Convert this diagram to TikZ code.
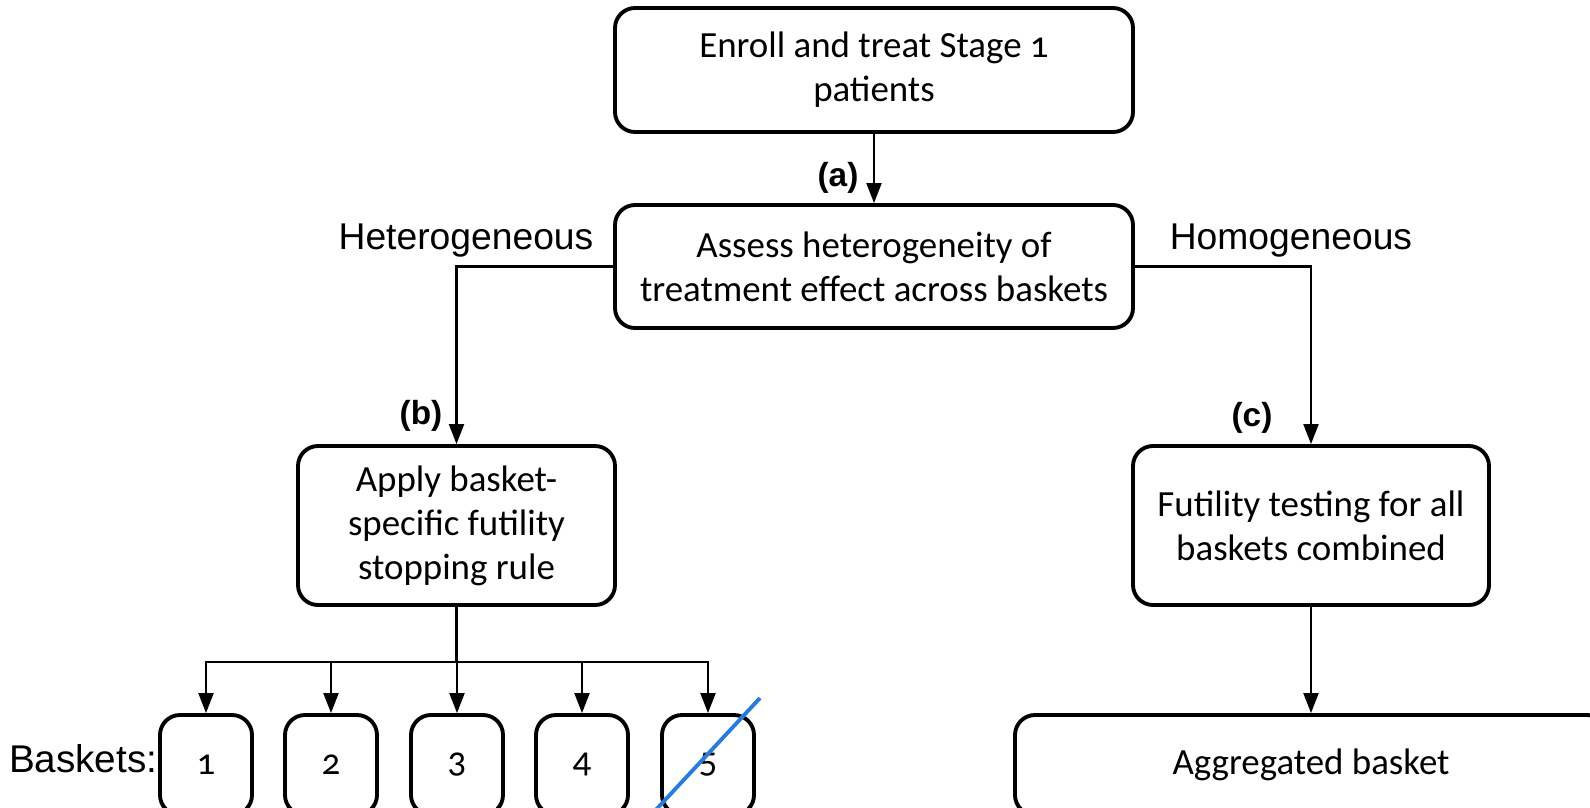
\documentclass[tikz,border=0pt]{standalone}
\usepackage{fontspec}
\setmainfont{Carlito}[Numbers=OldStyle]
\newfontfamily\labelfont{Liberation Sans}
\usetikzlibrary{arrows.meta}
\definecolor{slashblue}{RGB}{40,125,220}
\tikzstyle{process} = [rectangle, rounded corners=0.2cm, draw=black, line width=1.1pt, align=center, inner sep=0pt, font=\fontsize{10.5}{12.5}\selectfont]
\tikzstyle{basket} = [process, minimum width=0.92cm, minimum height=1cm]
\tikzstyle{arrow} = [line width=0.6pt, ->, >={Triangle[length=2mm, width=1.5mm]}]
\tikzstyle{line} = [line width=0.6pt]
\tikzstyle{branch} = [font=\labelfont\fontsize{10.6}{12.5}\selectfont]
\tikzstyle{tag} = [font=\labelfont\bfseries\fontsize{9.5}{11}\selectfont]

\begin{document}
\begin{tikzpicture}
\clip (0,0) rectangle (15.9,-8.08);
\node (start) [process, minimum width=5.18cm, minimum height=1.24cm] at (8.74,-0.70) {Enroll and treat Stage 1\\patients};
\node (assess) [process, minimum width=5.18cm, minimum height=1.23cm] at (8.74,-2.665) {Assess heterogeneity of\\treatment effect across baskets};
\node (rule) [process, minimum width=3.17cm, minimum height=1.59cm] at (4.565,-5.255) {Apply basket-\\specific futility\\stopping rule};
\node (futil) [process, minimum width=3.56cm, minimum height=1.59cm] at (13.11,-5.255) {Futility testing for all\\baskets combined};
\node (agg) [process, minimum width=5.92cm, minimum height=1cm] at (13.11,-7.65) {Aggregated basket};
\foreach \i/\x in {1/2.06, 2/3.31, 3/4.57, 4/5.82, 5/7.08}
  \node (b\i) [basket] at (\x,-7.65) {\i};

\node (het) [branch] at (4.66,-2.41) {Heterogeneous};
\node (hom) [branch] at (12.91,-2.41) {Homogeneous};
\node (bsk) [branch, anchor=east, font=\labelfont\fontsize{11}{13}\selectfont, inner xsep=0pt] at (1.58,-7.59) {Baskets:};
\node (ta) [tag] at (8.38,-1.78) {(a)};
\node (tb) [tag] at (4.21,-4.16) {(b)};
\node (tc) [tag] at (12.52,-4.18) {(c)};
\coordinate (s1) at (7.60,-6.98);
\coordinate (s2) at (6.52,-8.14);

\draw [arrow](start) -- (assess);
\draw [arrow](assess.west) -| (rule.north);
\draw [arrow](assess.east) -| (futil.north);
\draw [arrow](futil) -- (agg);
\foreach \i in {1,...,5}
  \draw [arrow](rule.south) -- ++(0,-0.55) -| (b\i.north);
\draw [slashblue, line width=1.1pt](s1) -- (s2);
\end{tikzpicture}
\end{document}
